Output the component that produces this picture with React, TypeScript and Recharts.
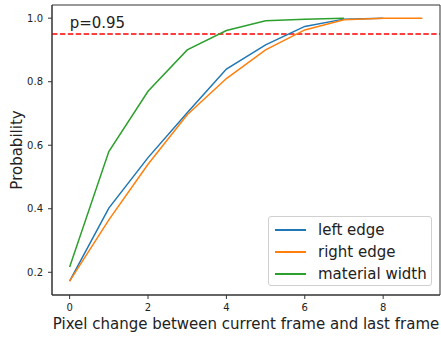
import React from 'react';
import { LineChart, Line, XAxis, YAxis, ReferenceLine, ReferenceArea, ReferenceDot, Legend } from 'recharts';

const pixelSteps = [0, 1, 2, 3, 4, 5, 6, 7, 8, 9];
const leftEdge = [0.172, 0.402, 0.561, 0.702, 0.84, 0.916, 0.974, 0.997, 1.0];
const rightEdge = [0.172, 0.365, 0.54, 0.696, 0.81, 0.9, 0.963, 0.995, 1.0, 1.0];
const materialWidth = [0.217, 0.58, 0.77, 0.9, 0.961, 0.992, 0.997, 1.0];
const seriesNames = ['left edge', 'right edge', 'material width'];
const seriesColors = ['#1f77b4', '#ff7f0e', '#2ca02c'];
const xTicks = [0, 2, 4, 6, 8];
const yTicks = [0.2, 0.4, 0.6, 0.8, 1.0];
const threshold = 0.95;
const thresholdText = 'p=0.95';

const xDomain: [number, number] = [-0.45, 9.45];
const yDomain: [number, number] = [0.1285, 1.0415];

const toSeries = (vals: number[]) => vals.map((p, i) => ({ x: pixelSteps[i], p }));
const seriesData = [leftEdge, rightEdge, materialWidth].map(toSeries);

const font = '"DejaVu Sans", sans-serif';
const txt = '#222';

const LegendBox = () => (
  <div
    style={{
      width: 164,
      height: 70,
      boxSizing: 'border-box',
      border: '1px solid #d0d0d0',
      borderRadius: 3,
      background: 'rgba(255,255,255,0.8)',
      fontFamily: font,
      fontSize: 15,
      color: txt,
      paddingTop: 2,
    }}
  >
    {seriesNames.map((name, i) => (
      <div key={name} style={{ display: 'flex', alignItems: 'center', height: 22 }}>
        <div style={{ width: 31, height: 2, background: seriesColors[i], marginLeft: 6, marginRight: 12 }} />
        <span>{name}</span>
      </div>
    ))}
  </div>
);

const XLabel = ({ viewBox }: any) => (
  <text x={viewBox.x + viewBox.width / 2} y={329} textAnchor="middle" fontFamily={font} fontSize={15} fill={txt}>
    Pixel change between current frame and last frame
  </text>
);

const YLabel = ({ viewBox }: any) => {
  const cx = 17;
  const cy = viewBox.y + viewBox.height / 2;
  return (
    <text
      x={cx}
      y={cy}
      transform={`rotate(-90, ${cx}, ${cy})`}
      textAnchor="middle"
      dominantBaseline="central"
      fontFamily={font}
      fontSize={15}
      fill={txt}
    >
      Probability
    </text>
  );
};

const PLabel = ({ viewBox }: any) => (
  <text x={viewBox.x} y={viewBox.y} fontFamily={font} fontSize={15} fill={txt}>
    {thresholdText}
  </text>
);

export default function App() {
  const tick = { fontFamily: font, fontSize: 10, fill: txt };
  return (
    <div style={{ position: 'absolute', left: 0, top: 0, background: '#fff' }}>
      <LineChart width={441} height={339} margin={{ top: 5, right: 1, bottom: 0, left: 0 }}>
        <XAxis
          dataKey="x"
          type="number"
          domain={xDomain}
          ticks={xTicks}
          allowDataOverflow
          height={44}
          tickSize={4}
          tickMargin={5}
          tick={tick}
          stroke="#333"
          label={<XLabel />}
        />
        <YAxis
          type="number"
          domain={yDomain}
          ticks={yTicks}
          allowDataOverflow
          width={52}
          tickSize={4}
          tickMargin={5}
          tick={tick}
          tickFormatter={(v: number) => v.toFixed(1)}
          stroke="#333"
          label={<YLabel />}
        />
        <ReferenceArea x1={xDomain[0]} x2={xDomain[1]} y1={yDomain[0]} y2={yDomain[1]} fill="none" stroke="#333" strokeWidth={1} ifOverflow="visible" />
        <ReferenceLine y={threshold} stroke="#ff0000" strokeWidth={1.5} strokeDasharray="5.5 2.4" />
        <ReferenceDot x={0} y={0.97} r={0} fill="none" stroke="none" label={<PLabel />} />
        {seriesData.map((data, i) => (
          <Line
            key={seriesNames[i]}
            data={data}
            dataKey="p"
            name={seriesNames[i]}
            stroke={seriesColors[i]}
            strokeWidth={1.5}
            dot={false}
            isAnimationActive={false}
          />
        ))}
        <Legend
          layout="vertical"
          align="center"
          verticalAlign="middle"
          content={<LegendBox />}
          wrapperStyle={{ left: 268, top: 216, width: 164 }}
        />
      </LineChart>
    </div>
  );
}
